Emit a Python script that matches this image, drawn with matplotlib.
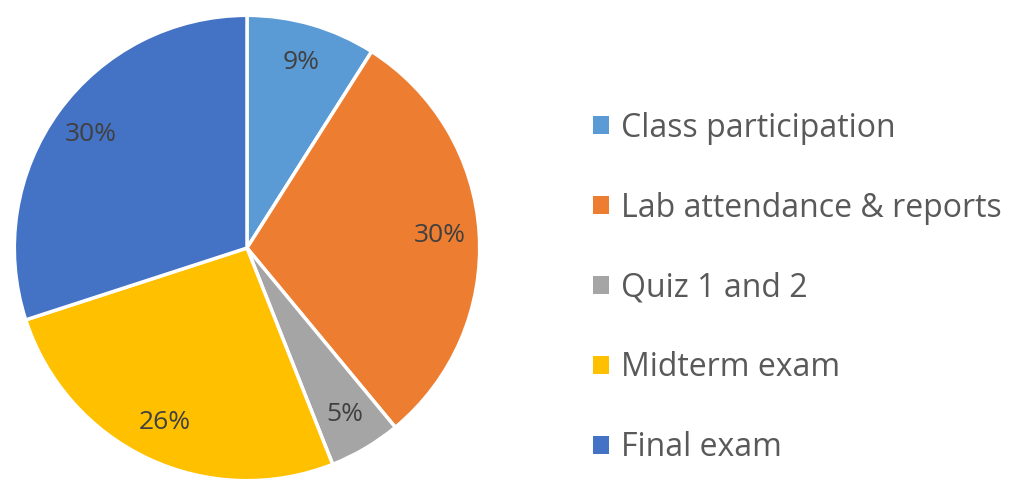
import matplotlib.pyplot as plt
from matplotlib.patches import Patch

categories = ['Class participation', 'Lab attendance & reports', 'Quiz 1 and 2',
              'Midterm exam', 'Final exam']
shares = [9, 30, 5, 26, 30]
colors = ['#5B9BD5', '#ED7D31', '#A5A5A5', '#FFC000', '#4472C4']

plt.rcParams['font.family'] = ['Open Sans', 'DejaVu Sans']

fig = plt.figure(figsize=(10.19, 4.79), dpi=100)
ax = fig.add_axes([12 / 1019, -4 / 479, 470 / 1019, 470 / 479])

wedges, texts, autotexts = ax.pie(
    shares, colors=colors, startangle=90, counterclock=False,
    autopct='%d%%', pctdistance=0.83,
    wedgeprops=dict(edgecolor='white', linewidth=2.5),
    textprops=dict(color='#404040', fontsize=19))
ax.set_xlim(-1.01, 1.01)
ax.set_ylim(-1.01, 1.01)

# legend on the right, square markers
handles = [Patch(facecolor=c, edgecolor='none') for c in colors]
leg = fig.legend(handles, categories, loc='center left',
                 bbox_to_anchor=(593 / 1019, 191 / 479),
                 frameon=False, fontsize=23, labelcolor='#595959',
                 borderpad=0, borderaxespad=0,
                 handlelength=0.5, handleheight=0.5, handletextpad=0.37,
                 labelspacing=1.47)

fig.savefig('out.png', dpi=100)
